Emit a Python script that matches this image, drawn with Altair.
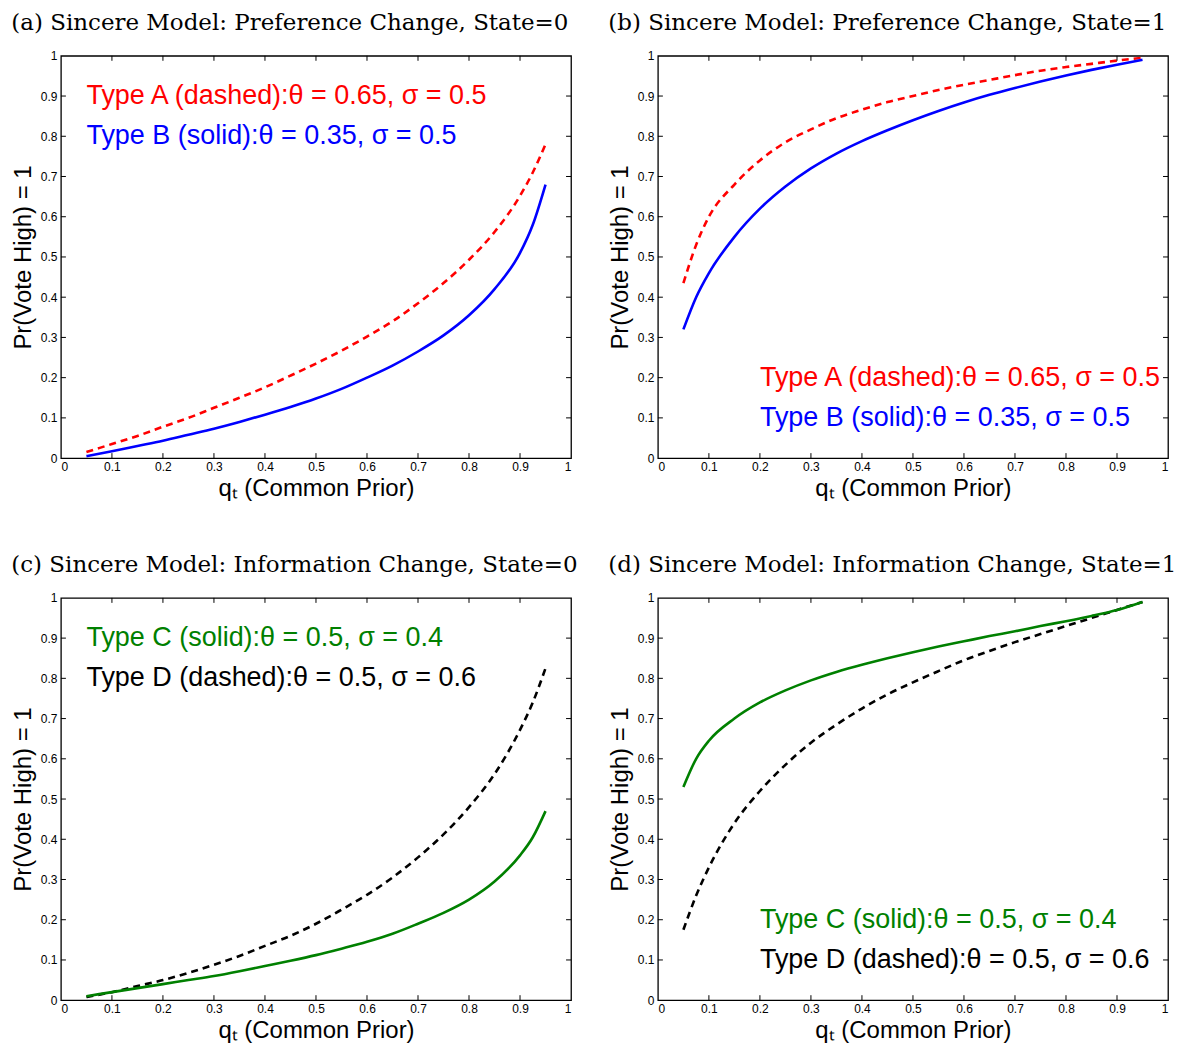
import altair as alt
import pandas as pd

# ---- data ----
Q_A = [0.05, 0.1, 0.15, 0.2, 0.25, 0.3, 0.35, 0.4, 0.45, 0.5, 0.55, 0.6, 0.65, 0.7, 0.75, 0.8, 0.85, 0.9, 0.925, 0.95]
Q_B = [0.05, 0.075, 0.1, 0.15, 0.2, 0.25, 0.3, 0.35, 0.4, 0.45, 0.5, 0.55, 0.6, 0.65, 0.7, 0.75, 0.8, 0.85, 0.9, 0.95]

a_typeA = [0.015, 0.035, 0.055, 0.078, 0.10, 0.125, 0.15, 0.176, 0.205, 0.235, 0.267, 0.302, 0.34, 0.385, 0.435, 0.493, 0.562, 0.652, 0.71, 0.78]
a_typeB = [0.005, 0.017, 0.03, 0.043, 0.058, 0.073, 0.09, 0.108, 0.127, 0.148, 0.172, 0.20, 0.23, 0.265, 0.305, 0.355, 0.42, 0.51, 0.58, 0.68]

b_typeA = [0.435, 0.53, 0.60, 0.68, 0.74, 0.785, 0.817, 0.845, 0.866, 0.885, 0.90, 0.915, 0.928, 0.94, 0.952, 0.963, 0.972, 0.98, 0.988, 0.995]
b_typeB = [0.32, 0.40, 0.46, 0.55, 0.62, 0.675, 0.72, 0.757, 0.788, 0.815, 0.84, 0.863, 0.884, 0.903, 0.92, 0.936, 0.951, 0.965, 0.978, 0.99]

c_typeC = [0.01, 0.02, 0.03, 0.04, 0.05, 0.06, 0.072, 0.085, 0.098, 0.112, 0.128, 0.145, 0.165, 0.19, 0.217, 0.25, 0.295, 0.36, 0.405, 0.47]
c_typeD = [0.008, 0.02, 0.035, 0.05, 0.068, 0.088, 0.11, 0.135, 0.16, 0.19, 0.225, 0.262, 0.305, 0.355, 0.412, 0.48, 0.562, 0.672, 0.74, 0.825]

d_typeC = [0.53, 0.60, 0.645, 0.70, 0.74, 0.77, 0.795, 0.816, 0.834, 0.85, 0.865, 0.879, 0.892, 0.905, 0.917, 0.93, 0.942, 0.955, 0.97, 0.99]
d_typeD = [0.175, 0.26, 0.33, 0.44, 0.52, 0.585, 0.64, 0.685, 0.725, 0.76, 0.79, 0.818, 0.845, 0.868, 0.89, 0.91, 0.93, 0.95, 0.97, 0.99]

TICKS = [0, 0.1, 0.2, 0.3, 0.4, 0.5, 0.6, 0.7, 0.8, 0.9, 1]

TITLES = [
    "(a) Sincere Model: Preference Change, State=0",
    "(b) Sincere Model: Preference Change, State=1",
    "(c) Sincere Model: Information Change, State=0",
    "(d) Sincere Model: Information Change, State=1",
]
LABEL_A = "Type A (dashed):θ = 0.65, σ = 0.5"
LABEL_B = "Type B (solid):θ = 0.35, σ = 0.5"
LABEL_C = "Type C (solid):θ = 0.5, σ = 0.4"
LABEL_D = "Type D (dashed):θ = 0.5, σ = 0.6"

RED, BLUE, GREEN, BLACK = "#ff0000", "#0000ff", "#008000", "#000000"

W, H = 511, 403
XS = alt.Scale(domain=[0, 1], nice=False, zero=False)
YS = alt.Scale(domain=[0, 1], nice=False, zero=False)


def line(q, v, color, dashed):
    df = pd.DataFrame({"q": q, "v": v})
    kw = {"strokeDash": [7, 5]} if dashed else {}
    return alt.Chart(df).mark_line(color=color, strokeWidth=2.6, interpolate="monotone", **kw).encode(
        x=alt.X("q:Q", scale=XS, axis=alt.Axis(
            values=TICKS, format=".1~f", title="qₜ (Common Prior)", tickSize=0, labelPadding=3,
            titlePadding=4, domain=False, grid=False)),
        y=alt.Y("v:Q", scale=YS, axis=alt.Axis(
            values=TICKS, format=".1~f", title="Pr(Vote High) = 1", tickSize=0, labelPadding=4,
            titlePadding=5, domain=False, grid=False)),
    )


def ticks():
    tdf = pd.DataFrame({"t": TICKS[1:-1]})
    base = alt.Chart(tdf).mark_rule(color="black", strokeWidth=1)
    bottom = base.encode(x=alt.X("t:Q", scale=XS), y=alt.value(H), y2=alt.value(H - 5))
    top = base.encode(x=alt.X("t:Q", scale=XS), y=alt.value(0), y2=alt.value(5))
    left = base.encode(y=alt.Y("t:Q", scale=YS), x=alt.value(0), x2=alt.value(5))
    right = base.encode(y=alt.Y("t:Q", scale=YS), x=alt.value(W - 5), x2=alt.value(W))
    return [bottom, top, left, right]


def note(x, y, text, color):
    df = pd.DataFrame({"x": [x], "y": [y], "label": [text]})
    return alt.Chart(df).mark_text(align="left", baseline="middle", font="Liberation Sans",
                                   fontSize=27, color=color).encode(
        x=alt.X("x:Q", scale=XS), y=alt.Y("y:Q", scale=YS), text="label:N")


def panel(title, lines, notes):
    layers = [line(*l) for l in lines] + ticks() + [note(*n) for n in notes]
    return alt.layer(*layers).properties(
        width=W, height=H,
        title=alt.TitleParams(title, anchor="start", frame="bounds", font="DejaVu Serif",
                              fontSize=23, fontWeight="normal", color="black", offset=15),
    )


pa = panel(TITLES[0], [(Q_A, a_typeA, RED, True), (Q_A, a_typeB, BLUE, False)],
           [(0.05, 0.9, LABEL_A, RED), (0.05, 0.8, LABEL_B, BLUE)])
pb = panel(TITLES[1], [(Q_B, b_typeA, RED, True), (Q_B, b_typeB, BLUE, False)],
           [(0.2, 0.2, LABEL_A, RED), (0.2, 0.1, LABEL_B, BLUE)])
pc = panel(TITLES[2], [(Q_A, c_typeD, BLACK, True), (Q_A, c_typeC, GREEN, False)],
           [(0.05, 0.9, LABEL_C, GREEN), (0.05, 0.8, LABEL_D, BLACK)])
pd_ = panel(TITLES[3], [(Q_B, d_typeD, BLACK, True), (Q_B, d_typeC, GREEN, False)],
            [(0.2, 0.2, LABEL_C, GREEN), (0.2, 0.1, LABEL_D, BLACK)])

chart = alt.concat(
    pa, pb, pc, pd_,
    columns=2,
    spacing={"row": 140, "column": 87},
    bounds="flush",
    background="white",
    padding=2,
).configure_view(stroke="black", strokeWidth=1.3).configure_axis(
    labelFont="Liberation Sans", labelFontSize=12, labelColor="black",
    titleFont="Liberation Sans", titleFontSize=24, titleFontWeight="normal", titleColor="black",
)

chart.save("out.html", embed_options={"renderer": "svg", "actions": False})
